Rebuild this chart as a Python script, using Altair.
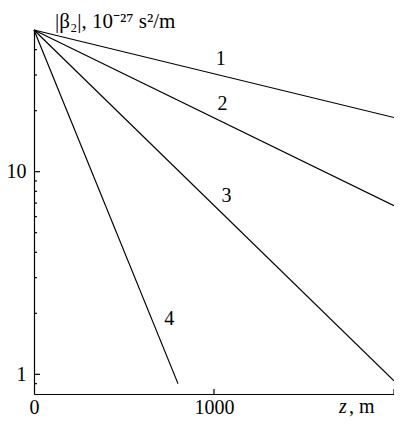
import altair as alt
import pandas as pd

# Curves: straight lines on the log scale, start and end points
curve_ids = ["1", "2", "3", "4"]
z_start = [0, 0, 0, 0]
z_end = [2000, 2000, 2000, 800]
beta_start = [50, 50, 50, 50]
beta_end = [18.5, 6.8, 0.93, 0.9]

# Curve-number annotations (data coordinates)
label_z = [1037, 1047, 1069, 751]
label_beta = [35.9, 21.5, 7.57, 1.87]

# Axis ticks
y_major = [1, 10]
y_minor = [0.9, 2, 3, 4, 5, 6, 7, 8, 9, 20, 30, 40]
x_labels = [0, 1000]
x_ticks = [1000, 2000]

W = 360
H = 364
FONT = "Liberation Serif"

rows = []
for cid, z0, z1, b0, b1 in zip(curve_ids, z_start, z_end, beta_start, beta_end):
    rows.append({"curve": cid, "z": z0, "beta": b0, "order": 0})
    rows.append({"curve": cid, "z": z1, "beta": b1, "order": 1})
lines_df = pd.DataFrame(rows)
labels_df = pd.DataFrame({"curve": curve_ids, "z": label_z, "beta": label_beta})

xscale = alt.Scale(domain=[0, 2000], nice=False, zero=False)
yscale = alt.Scale(type="log", domain=[0.8, 50], nice=False)

x_axis = alt.Axis(values=x_labels, title=None, ticks=False, grid=False,
                  domainColor="black", domainWidth=1.2, labelFont=FONT,
                  labelFontSize=20, labelColor="black", labelPadding=3,
                  labelFlush=False, format="d")
y_axis = alt.Axis(values=y_major, title=None, ticks=False, grid=False,
                  domainColor="black", domainWidth=1.2, labelFont=FONT,
                  labelFontSize=20, labelColor="black", labelPadding=8,
                  format="d")

X = lambda f: alt.X(f, scale=xscale, axis=x_axis)
Y = lambda f: alt.Y(f, scale=yscale, axis=y_axis)

lines = alt.Chart(lines_df).mark_line(color="black", strokeWidth=1.2).encode(
    x=X("z:Q"), y=Y("beta:Q"), detail="curve:N", order="order:Q"
)

labels = alt.Chart(labels_df).mark_text(
    font=FONT, fontSize=20, color="black", baseline="middle", align="center"
).encode(x=X("z:Q"), y=Y("beta:Q"), text="curve:N")

y_major_ticks = alt.Chart(pd.DataFrame({"beta": y_major})).mark_rule(
    color="black", strokeWidth=1.2
).encode(y=Y("beta:Q"), x=alt.value(0), x2=alt.value(6))

y_minor_ticks = alt.Chart(pd.DataFrame({"beta": y_minor})).mark_rule(
    color="black", strokeWidth=1.2
).encode(y=Y("beta:Q"), x=alt.value(0), x2=alt.value(3))

x_tick_marks = alt.Chart(pd.DataFrame({"z": x_ticks})).mark_rule(
    color="black", strokeWidth=1.2
).encode(x=X("z:Q"), y=alt.value(H), y2=alt.value(H - 5))

title = alt.Chart(pd.DataFrame({"t": ["|β₂|, 10⁻²⁷ s²/m"]})).mark_text(
    font=FONT, fontSize=21, color="black", align="left", baseline="middle"
).encode(text="t:N", x=alt.value(21), y=alt.value(-8))

z_text = alt.Chart(pd.DataFrame({"t": ["z"]})).mark_text(
    font=FONT, fontSize=20, fontStyle="italic", color="black",
    align="center", baseline="middle"
).encode(text="t:N", x=alt.value(309), y=alt.value(377))

m_text = alt.Chart(pd.DataFrame({"t": [", m"]})).mark_text(
    font=FONT, fontSize=20, color="black", align="left", baseline="middle"
).encode(text="t:N", x=alt.value(315), y=alt.value(377))

chart = alt.layer(
    lines, labels, y_major_ticks, y_minor_ticks, x_tick_marks, title, z_text, m_text
).properties(
    width=W, height=H,
    autosize=alt.AutoSizeParams(type="none"),
    padding={"left": 26, "top": 22, "right": 0, "bottom": 24},
).configure_view(stroke=None)

chart.save("out.html", embed_options={"renderer": "svg", "actions": False})
